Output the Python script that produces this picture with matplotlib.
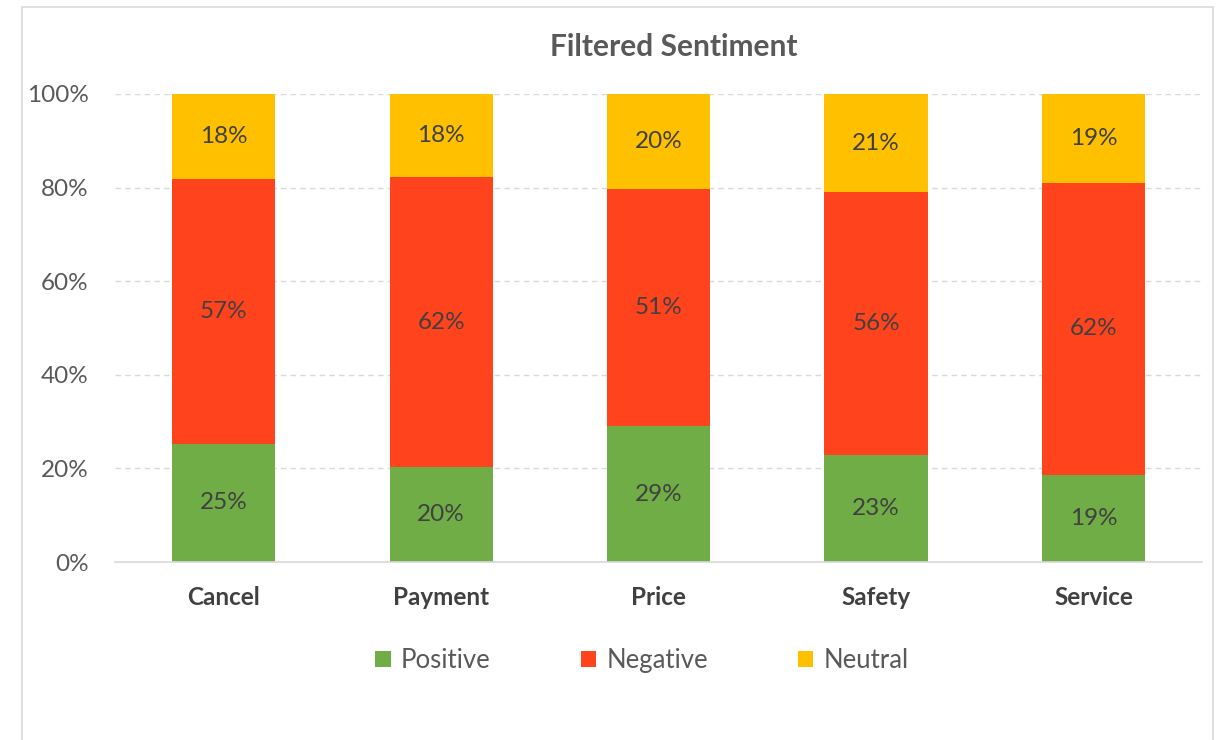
import matplotlib
matplotlib.use('Agg')
from matplotlib import pyplot as plt
from matplotlib.patches import Rectangle
import numpy as np

# data (percent of each topic)
topics = ['Cancel', 'Payment', 'Price', 'Safety', 'Service']
positive = [25.3, 20.2, 29.0, 22.8, 18.7]
negative = [56.6, 62.1, 50.7, 56.2, 62.2]
neutral = [18.1, 17.7, 20.3, 21.0, 19.1]

series = [('Positive', positive, '#70AD47'),
          ('Negative', negative, '#FF431C'),
          ('Neutral', neutral, '#FFC000')]

plt.rcParams['font.family'] = ['Lato', 'DejaVu Sans']

fig = plt.figure(figsize=(12.16, 7.40), dpi=100)
ax = fig.add_axes([0.0946, 0.2405, 0.894, 0.6325])

x = np.arange(len(topics))
bottom = np.zeros(len(topics))
for name, vals, col in series:
    vals = np.array(vals)
    ax.bar(x, vals, 0.474, bottom=bottom, color=col, label=name, zorder=2)
    for xi, b, v in zip(x, bottom, vals):
        ax.text(xi, b + v / 2, '%d%%' % round(v), ha='center', va='center',
                fontsize=17.5, color='#404040', zorder=3)
    bottom += vals

ax.set_xlim(-0.5, len(topics) - 0.5)
ax.set_ylim(0, 100)
ax.set_yticks([0, 20, 40, 60, 80, 100])
ax.set_yticklabels(['%d%%' % t for t in [0, 20, 40, 60, 80, 100]])
ax.set_xticks(x)
ax.set_xticklabels(topics, fontweight='bold')
ax.tick_params(axis='y', length=0, pad=19, labelsize=17.5, labelcolor='#595959')
ax.tick_params(axis='x', length=0, pad=17, labelsize=17.5, labelcolor='#404040')
ax.yaxis.grid(True, linestyle=(0, (4, 3)), color='#D9D9D9', linewidth=1, zorder=0)
for s in ['top', 'right', 'left']:
    ax.spines[s].set_visible(False)
ax.spines['bottom'].set_color('#D9D9D9')
ax.spines['bottom'].set_linewidth(1.2)

fig.text(0.554, 0.937, 'Filtered Sentiment', ha='center', va='center',
         fontsize=21.5, fontweight='bold', color='#595959')

fig.legend(loc='center', bbox_to_anchor=(0.528, 0.107), ncol=3, frameon=False,
           fontsize=18.5, handlelength=0.6, handleheight=0.6, handletextpad=0.4,
           columnspacing=3.5, labelcolor='#595959')

# light chart border
fig.patches.append(Rectangle((22 / 1216, -0.05), (1213 - 22) / 1216, 1.05 - 7 / 740,
                             transform=fig.transFigure, fill=False,
                             edgecolor='#D9D9D9', linewidth=1.2))

fig.savefig('out.png', dpi=100)
